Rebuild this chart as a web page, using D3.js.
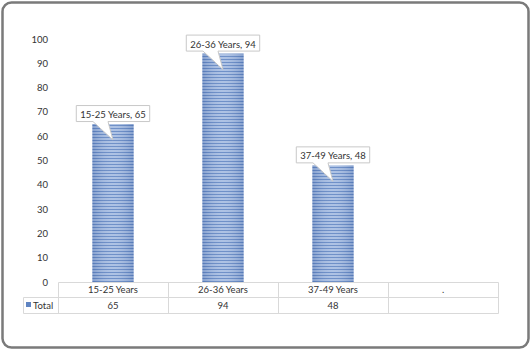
<!DOCTYPE html>
<html><head><meta charset="utf-8">
<script src="https://cdn.jsdelivr.net/npm/d3@7/dist/d3.min.js"></script>
<style>
html,body{margin:0;padding:0;background:#fff;}
text{font-family:Lato,"Open Sans",sans-serif;fill:#333;}
</style></head>
<body><svg id="c" width="531" height="352"></svg>
<script>
const categories = ["15-25 Years","26-36 Years","37-49 Years","."];
const values = [65, 94, 48, null];
const seriesName = "Total";
const yTicks = [0,10,20,30,40,50,60,70,80,90,100];

const svg = d3.select("#c");

svg.append("rect").attr("x",2.5).attr("y",2.5).attr("width",526).attr("height",345)
  .attr("rx",9).attr("fill","#fff").attr("stroke","#7a7a7a").attr("stroke-width",2.5);

const defs = svg.append("defs");
const pat = defs.append("pattern").attr("id","stripes").attr("patternUnits","userSpaceOnUse")
  .attr("width",8).attr("height",3);
pat.append("rect").attr("width",8).attr("height",3).attr("fill","#a5bce2");
pat.append("rect").attr("y",2).attr("width",8).attr("height",1).attr("fill","#5f84c2");

const grad = defs.append("linearGradient").attr("id","shade").attr("x1",0).attr("x2",1);
grad.append("stop").attr("offset","0").attr("stop-color","#3d5f9e").attr("stop-opacity",0.3);
grad.append("stop").attr("offset","0.5").attr("stop-color","#fff").attr("stop-opacity",0.1);
grad.append("stop").attr("offset","1").attr("stop-color","#3d5f9e").attr("stop-opacity",0.3);

const x = d3.scaleBand().domain(categories).range([58,498]).paddingInner(0).paddingOuter(0);
const y = d3.scaleLinear().domain([0,100]).range([282,39]);

const yAxis = d3.axisLeft(y).tickValues(yTicks).tickSize(0).tickPadding(0);
const ya = svg.append("g").attr("transform","translate(48,0)").call(yAxis);
ya.select(".domain").remove();
ya.selectAll("text").style("font-family","Lato,'Open Sans',sans-serif").style("font-size","9.5px").attr("fill","#333");

const bw = x.bandwidth()*0.375;
const data = categories.map((c,i)=>({c, v: values[i]})).filter(d=>d.v!=null);

const bars = svg.append("g");
bars.selectAll("rect.bar").data(data).join("rect").attr("class","bar")
  .attr("x",d=>x(d.c)+x.bandwidth()/2-bw/2).attr("width",bw)
  .attr("y",d=>y(d.v)).attr("height",d=>y(0)-y(d.v)).attr("fill","url(#stripes)");
bars.selectAll("rect.shade").data(data).join("rect").attr("class","shade")
  .attr("x",d=>x(d.c)+x.bandwidth()/2-bw/2).attr("width",bw)
  .attr("y",d=>y(d.v)).attr("height",d=>y(0)-y(d.v)).attr("fill","url(#shade)");

const grid = svg.append("g").attr("stroke","#d9d9d9").attr("stroke-width",1).attr("fill","none");
const r0 = 282.5, r1 = 297.5, r2 = 313.5;
const x0 = x.range()[0]+0.5, x1 = x.range()[1]+0.5, lx = 23.5;
grid.append("line").attr("x1",x0).attr("x2",x1).attr("y1",r0).attr("y2",r0);
grid.append("line").attr("x1",lx).attr("x2",x1).attr("y1",r1).attr("y2",r1);
grid.append("line").attr("x1",lx).attr("x2",x1).attr("y1",r2).attr("y2",r2);
grid.append("line").attr("x1",lx).attr("x2",lx).attr("y1",r1).attr("y2",r2);
categories.forEach(c=>{
  const xx = Math.round(x(c))+0.5;
  grid.append("line").attr("x1",xx).attr("x2",xx).attr("y1",r0).attr("y2",r2);
});
grid.append("line").attr("x1",x1).attr("x2",x1).attr("y1",r0).attr("y2",r2);

const tg = svg.append("g").style("font-size","9.5px");
tg.selectAll("text.cat").data(categories).join("text").attr("class","cat")
  .attr("x",d=>x(d)+x.bandwidth()/2).attr("y",293).attr("text-anchor","middle").text(d=>d);
tg.selectAll("text.val").data(categories.map((c,i)=>({c,v:values[i]}))).join("text").attr("class","val")
  .attr("x",d=>x(d.c)+x.bandwidth()/2).attr("y",309).attr("text-anchor","middle").text(d=>d.v==null?"":d.v);
svg.append("rect").attr("x",26).attr("y",302).attr("width",5).attr("height",5).attr("fill","#5f84c2");
tg.append("text").attr("x",33).attr("y",309).text(seriesName);

const cg = svg.append("g");
data.forEach(d=>{
  const cx = x(d.c)+x.bandwidth()/2;
  const top = y(d.v);
  const label = d.c + ", " + d.v;
  const t = cg.append("text").attr("x",cx).attr("y",top-6).attr("text-anchor","middle")
    .style("font-size","9.5px").text(label);
  const w = t.node().getComputedTextLength()+8;
  const bx = cx - w/2, by = top-18.5, bh = 16;
  cg.insert("path","text")
    .attr("d",`M${bx},${by} H${bx+w} V${by+bh} H${cx-5} L${cx},${top+16} L${cx-20},${by+bh} H${bx} Z`)
    .attr("fill","#fff").attr("stroke","#c8c8c8").attr("stroke-width",1);
});
</script></body></html>
